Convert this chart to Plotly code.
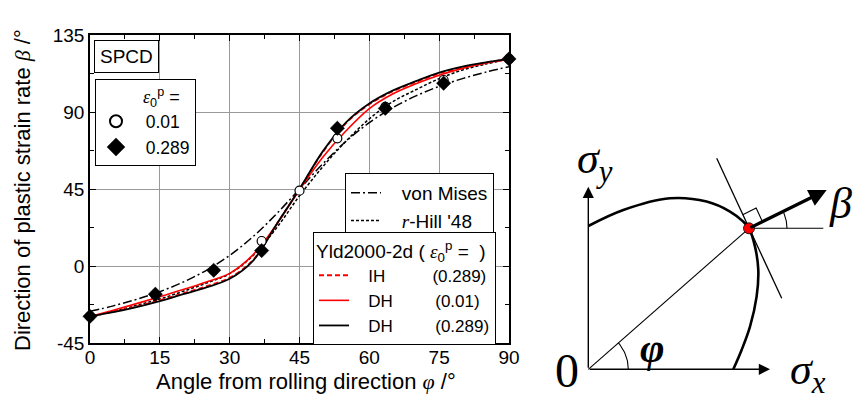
import numpy as np
import plotly.graph_objects as go

# ---------------- data ----------------
phi_grid = [0, 5, 10, 15, 20, 25, 30, 35, 40, 45, 50, 55, 60, 65, 70, 75, 80, 85, 90]
beta_von_mises = [-26.5, -23.3, -19.5, -15.0, -9.4, -2.5, 6.2, 17.1, 30.3, 45.0,
                  59.7, 72.9, 83.8, 92.5, 99.4, 105.0, 109.5, 113.3, 116.5]
beta_r_hill = [-29.4, -26.5, -23.0, -19.3, -14.8, -10.0, -4.5, 6.0, 22.0, 41.0,
               58.0, 73.0, 86.0, 96.0, 103.0, 109.5, 114.5, 118.0, 121.0]
beta_ih_0289 = [-29.5, -26.7, -23.6, -20.0, -16.0, -11.8, -6.8, 3.5, 24.0, 45.0,
                66.5, 83.5, 94.5, 102.0, 107.5, 112.5, 116.0, 118.8, 121.0]
beta_dh_001 = [-29.5, -25.8, -22.0, -18.0, -13.8, -9.3, -4.3, 6.5, 24.0, 44.5,
               63.5, 79.0, 92.0, 100.5, 106.5, 111.5, 115.5, 118.5, 120.8]
beta_dh_0289 = [-29.5, -27.0, -24.0, -20.5, -16.5, -12.5, -7.5, 3.0, 24.0, 45.0,
                67.0, 84.0, 95.0, 102.5, 108.0, 113.0, 116.5, 119.0, 121.0]

phi_exp = [0.0, 14.04, 26.57, 36.87, 45.0, 53.13, 63.43, 75.96, 90.0]
beta_exp_001 = [-29.4, -17.0, -2.5, 14.6, 44.0, 74.6, 93.0, 108.7, 121.0]
beta_exp_0289 = [-29.4, -16.5, -2.5, 9.0, None, 80.5, 92.1, 106.8, 121.0]

x_ticks = [0, 15, 30, 45, 60, 75, 90]
y_ticks = [-45, 0, 45, 90, 135]
y_tick_text = ["-45", "0", "45", "90", "135"]

# schematic yield locus (sigma_x, sigma_y) of the right-hand sketch
locus_sx = [0.0, 0.35, 0.817, 1.183, 1.417, 1.55, 1.607, 1.667, 1.70, 1.683, 1.617, 1.533, 1.45]
locus_sy = [1.433, 1.593, 1.71, 1.677, 1.577, 1.477, 1.41, 1.227, 0.993, 0.727, 0.427, 0.193, 0.0]
stress_point = (1.607, 1.41)
tangent_ends = ([1.284, 1.934], [2.11, 0.71])
normal_tip = (2.384, 1.793)
axis_len_x = 1.817
axis_len_y = 1.826
ref_line_end = 2.35

W, H = 854, 401
FONT = "Liberation Sans, Arial, sans-serif"
SERIF = "Liberation Serif, Times New Roman, serif"
NB = "\u00a0"

def px(x):
    return x / W

def py(y):
    return 1 - y / H

fig = go.Figure()

# ---------------- model curves ----------------
fig.add_trace(go.Scatter(x=phi_grid, y=beta_von_mises, mode="lines", name=NB * 3 + "von Mises",
                         line=dict(color="black", width=1.5, dash="9px,3px,2px,3px", shape="spline"),
                         legend="legend2"))
fig.add_trace(go.Scatter(x=phi_grid, y=beta_r_hill, mode="lines",
                         name=NB * 3 + "<i><span style='font-family:Liberation Serif'>r</span></i>-Hill '48",
                         line=dict(color="black", width=1.5, dash="3px,2px", shape="spline"),
                         legend="legend2"))
fig.add_trace(go.Scatter(x=phi_grid, y=beta_ih_0289, mode="lines",
                         name=NB * 3 + "IH" + NB * 10 + "(0.289)",
                         line=dict(color="red", width=1.8, dash="5px,3px", shape="spline"),
                         legend="legend3"))
fig.add_trace(go.Scatter(x=phi_grid, y=beta_dh_001, mode="lines",
                         name=NB * 3 + "DH" + NB * 9 + "(0.01)",
                         line=dict(color="red", width=1.6, shape="spline"),
                         legend="legend3"))
fig.add_trace(go.Scatter(x=phi_grid, y=beta_dh_0289, mode="lines",
                         name=NB * 3 + "DH" + NB * 9 + "(0.289)",
                         line=dict(color="black", width=1.8, shape="spline"),
                         legend="legend3"))

# ---------------- experiments ----------------
fig.add_trace(go.Scatter(x=phi_exp, y=beta_exp_001, mode="markers", name=NB * 2 + "0.01",
                         marker=dict(symbol="circle", size=9, color="white",
                                     line=dict(color="black", width=1.2)),
                         legend="legend", cliponaxis=False))
fig.add_trace(go.Scatter(x=phi_exp, y=beta_exp_0289, mode="markers", name=NB * 2 + "0.289",
                         marker=dict(symbol="diamond", size=11, color="black",
                                     line=dict(color="black", width=0.5)),
                         legend="legend", cliponaxis=False))

# ---------------- right-hand sketch ----------------
sk = dict(xaxis="x2", yaxis="y2", showlegend=False, hoverinfo="skip")
fig.add_trace(go.Scatter(x=locus_sx, y=locus_sy, mode="lines",
                         line=dict(color="black", width=2.6, shape="spline"), **sk))
fig.add_trace(go.Scatter(x=[0, stress_point[0]], y=[0, stress_point[1]], mode="lines",
                         line=dict(color="black", width=1.1), **sk))
fig.add_trace(go.Scatter(x=tangent_ends[0], y=tangent_ends[1], mode="lines",
                         line=dict(color="black", width=1.3), **sk))
fig.add_trace(go.Scatter(x=[stress_point[0], ref_line_end], y=[stress_point[1], stress_point[1]],
                         mode="lines", line=dict(color="black", width=1.1), **sk))
# arcs
phi_ang = np.arctan2(stress_point[1], stress_point[0])
a = np.linspace(0, phi_ang, 30)
fig.add_trace(go.Scatter(x=0.40 * np.cos(a), y=0.40 * np.sin(a), mode="lines",
                         line=dict(color="black", width=1.1), **sk))
nvec = np.array(normal_tip) - np.array(stress_point)
beta_ang = np.arctan2(nvec[1], nvec[0])
b = np.linspace(0, beta_ang, 30)
fig.add_trace(go.Scatter(x=stress_point[0] + 0.38 * np.cos(b), y=stress_point[1] + 0.38 * np.sin(b),
                         mode="lines", line=dict(color="black", width=1.1), **sk))
# right-angle mark
n_hat = nvec / np.linalg.norm(nvec)
t_vec = np.array([tangent_ends[0][0], tangent_ends[1][0]]) - np.array(stress_point)
t_hat = t_vec / np.linalg.norm(t_vec)
s = 0.15
P = np.array(stress_point)
sq = [P + s * n_hat, P + s * n_hat + s * t_hat, P + s * t_hat]
fig.add_trace(go.Scatter(x=[q[0] for q in sq], y=[q[1] for q in sq], mode="lines",
                         line=dict(color="black", width=1.1), **sk))
fig.add_trace(go.Scatter(x=[stress_point[0]], y=[stress_point[1]], mode="markers",
                         marker=dict(color="red", size=11, line=dict(color="black", width=0.8)), **sk))

annotations = []
arrow_common = dict(xref="x2", yref="y2", axref="x2", ayref="y2", text="", showarrow=True,
                    arrowcolor="black")
annotations.append(dict(x=axis_len_x, y=0, ax=0, ay=0, arrowhead=2, arrowsize=1.6, arrowwidth=1.4,
                        **arrow_common))
annotations.append(dict(x=0, y=axis_len_y, ax=0, ay=0, arrowhead=2, arrowsize=1.6, arrowwidth=1.4,
                        **arrow_common))
annotations.append(dict(x=normal_tip[0], y=normal_tip[1], ax=stress_point[0], ay=stress_point[1],
                        arrowhead=2, arrowsize=1.1, arrowwidth=3.2, **arrow_common))

def label(x, y, text, size, family, xanchor="center", yanchor="middle", **kw):
    return dict(x=px(x), y=py(y), xref="paper", yref="paper", showarrow=False,
                xanchor=xanchor, yanchor=yanchor, text=text,
                font=dict(family=family, size=size, color="black"), **kw)

# sketch labels
annotations += [
    label(595, 162, "<i>σ<sub>y</sub></i>", 44, SERIF),
    label(808, 372, "<i>σ<sub>x</sub></i>", 44, SERIF),
    label(827, 203, "<i>β</i>", 44, SERIF, xanchor="left"),
    label(652, 348, "<b><i>φ</i></b>", 42, SERIF),
    label(567, 370, "0", 48, SERIF),
]

# axis titles and SPCD box
annotations += [
    label(306, 381,
          "Angle from rolling direction <i><span style='font-family:Liberation Serif'>φ</span></i> /°",
          22, FONT),
    label(22, 190,
          "Direction of plastic strain rate <i><span style='font-family:Liberation Serif'>β</span></i> /°",
          22, FONT, textangle=-90),
    label(94, 40, "SPCD", 19, FONT, xanchor="left", yanchor="top",
          bordercolor="black", borderwidth=1, borderpad=5, bgcolor="white"),
]

eps = "<i><span style='font-family:Liberation Serif'>ε</span></i><sub>0</sub><sup>p</sup>"

fig.update_layout(
    width=W, height=H,
    margin=dict(l=0, r=0, t=0, b=0),
    paper_bgcolor="white", plot_bgcolor="white",
    font=dict(family=FONT, size=19, color="black"),
    xaxis=dict(domain=[px(90), px(509)], range=[0, 90], tickvals=x_ticks,
               ticks="inside", ticklen=6, tickwidth=1, tickcolor="black",
               showline=True, linecolor="black", linewidth=1.5, mirror="ticks",
               showgrid=True, gridcolor="#9a9a9a", gridwidth=1, zeroline=False,
               minor=dict(dtick=7.5, ticks="inside", ticklen=4, tickcolor="black", showgrid=False),
               tickfont=dict(size=19), automargin=False, ticklabelstandoff=-4),
    yaxis=dict(domain=[py(343), py(35)], range=[-45, 135], tickvals=y_ticks, ticktext=y_tick_text,
               ticks="inside", ticklen=6, tickwidth=1, tickcolor="black",
               showline=True, linecolor="black", linewidth=1.5, mirror="ticks",
               showgrid=True, gridcolor="#9a9a9a", gridwidth=1, zeroline=False,
               minor=dict(dtick=22.5, ticks="inside", ticklen=4, tickcolor="black", showgrid=False),
               tickfont=dict(size=19), automargin=False),
    xaxis2=dict(domain=[px(540), 1.0], range=[-0.483, 2.657], visible=False, anchor="y2"),
    yaxis2=dict(domain=[0, 1], range=[-0.317, 3.693], visible=False, anchor="x2"),
    legend=dict(x=px(95), y=py(79), xanchor="left", yanchor="top",
                bordercolor="black", borderwidth=1, bgcolor="white",
                font=dict(size=17.5),
                title=dict(text=NB * 9 + eps + " =", side="top", font=dict(size=18)),
                itemsizing="constant", tracegroupgap=0),
    legend2=dict(x=px(345), y=py(173), xanchor="left", yanchor="top",
                 bordercolor="black", borderwidth=1, bgcolor="white", font=dict(size=19),
                 tracegroupgap=0),
    legend3=dict(x=px(313), y=py(232), xanchor="left", yanchor="top",
                 bordercolor="black", borderwidth=1, bgcolor="white", font=dict(size=17),
                 title=dict(text="Yld2000-2d ( " + eps + " =  )", side="top", font=dict(size=19)),
                 tracegroupgap=0),
    annotations=annotations,
    showlegend=True,
)

fig.write_html("out.html")
